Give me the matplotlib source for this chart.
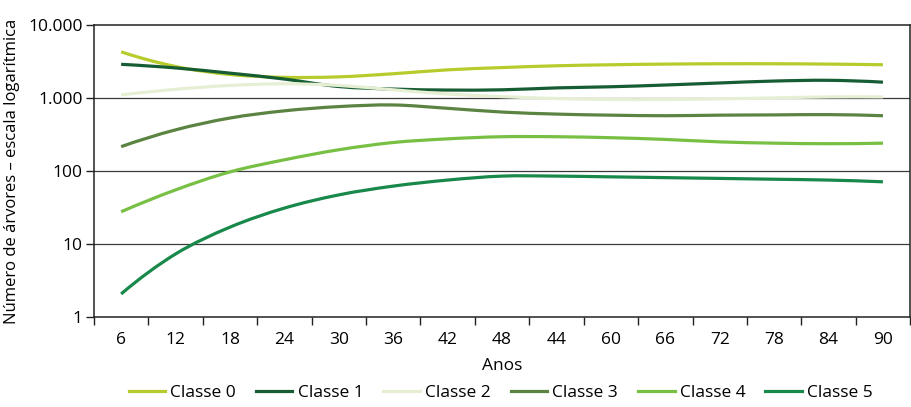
import numpy as np
import matplotlib
matplotlib.use("Agg")
import matplotlib.pyplot as plt
from matplotlib.path import Path
from matplotlib.patches import PathPatch
from matplotlib.lines import Line2D

plt.rcParams['font.family'] = ['Open Sans', 'DejaVu Sans']

anos = ["6", "12", "18", "24", "30", "36", "42", "48", "44", "60", "66", "72", "78", "84", "90"]

classe_0 = [4270, 2690, 2090, 1910, 1940, 2140, 2420, 2600, 2750, 2840, 2900, 2930, 2930, 2900, 2840]
classe_1 = [2880, 2570, 2180, 1810, 1430, 1320, 1280, 1290, 1370, 1420, 1500, 1600, 1700, 1740, 1640]
classe_2 = [1100, 1310, 1480, 1560, 1480, 1290, 1130, 1040, 980, 950, 950, 970, 1000, 1030, 1030]
classe_3 = [215, 365, 530, 665, 760, 800, 720, 640, 600, 580, 570, 580, 585, 590, 570]
classe_4 = [27.6, 55, 97, 142, 195, 245, 275, 294, 294, 285, 270, 250, 240, 236, 240]
classe_5 = [2.07, 7.3, 17, 31, 47, 62, 75, 85, 85, 83, 81, 79, 77, 75, 71]

series = [classe_0, classe_1, classe_2, classe_3, classe_4, classe_5]
nomes = ["Classe 0", "Classe 1", "Classe 2", "Classe 3", "Classe 4", "Classe 5"]
cores = ["#b7cc2c", "#175d33", "#e6efd3", "#5b8443", "#78c044", "#18894a"]


def smooth_path(x, y):
    """Cubic Hermite curve through the points, built in log space for a log axis."""
    x = np.asarray(x, float)
    ly = np.log10(np.asarray(y, float))
    pts = np.column_stack([x, ly])
    n = len(pts)
    m = np.zeros_like(pts)
    m[1:-1] = (pts[2:] - pts[:-2]) / 2.0
    m[0] = 2 * (pts[1] - pts[0]) - m[1]
    m[-1] = 2 * (pts[-1] - pts[-2]) - m[-2]
    verts = [pts[0]]
    codes = [Path.MOVETO]
    for i in range(n - 1):
        verts += [pts[i] + m[i] / 3.0, pts[i + 1] - m[i + 1] / 3.0, pts[i + 1]]
        codes += [Path.CURVE4] * 3
    verts = np.array(verts)
    verts[:, 1] = 10 ** verts[:, 1]
    return Path(verts, codes)


fig = plt.figure(figsize=(9.12, 4.07), dpi=100)
ax = fig.add_axes([0.103, 0.221, 0.895, 0.718])

x = np.arange(len(anos))
ax.set_yscale('log')
ax.set_xlim(-0.5, len(anos) - 0.5)
ax.set_ylim(1, 10000)

for yy in [10, 100, 1000]:
    ax.axhline(yy, color='#3a3a3a', lw=0.9, zorder=1)

handles = []
for vals, nome, cor in zip(series, nomes, cores):
    patch = PathPatch(smooth_path(x, vals), facecolor='none', edgecolor=cor,
                      lw=2.3, capstyle='butt', zorder=3)
    ax.add_patch(patch)
    handles.append(Line2D([], [], color=cor, lw=2.3))

# y axis
ax.set_yticks([1, 10, 100, 1000, 10000])
ax.set_yticklabels(["1", "10", "100", "1.000", "10.000"])
ax.yaxis.set_minor_locator(matplotlib.ticker.NullLocator())
ax.tick_params(axis='y', which='major', direction='out', length=6, width=1,
               labelsize=12.5, pad=2, color='#222222')
ax.set_ylabel("Número de árvores – escala logarítmica", fontsize=12, labelpad=6)

# x axis: ticks on category boundaries, labels centred
ax.set_xticks(np.arange(len(anos) + 1) - 0.5)
ax.set_xticklabels([])
ax.set_xticks(x, minor=True)
ax.set_xticklabels(anos, minor=True)
ax.tick_params(axis='x', which='major', direction='out', length=6, width=1, color='#222222')
ax.tick_params(axis='x', which='minor', length=0, labelsize=12.5, pad=11)
ax.set_xlabel("Anos", fontsize=12.5, labelpad=7)

for s in ax.spines.values():
    s.set_color('#222222')
    s.set_linewidth(1.1)

fig.legend(handles, nomes, loc='center', bbox_to_anchor=(0.549, 0.035), ncol=6,
           frameon=False, fontsize=12.5, handlelength=2.1, handletextpad=0.3,
           columnspacing=1.15, borderaxespad=0, borderpad=0)

fig.savefig("out.png", dpi=100)
